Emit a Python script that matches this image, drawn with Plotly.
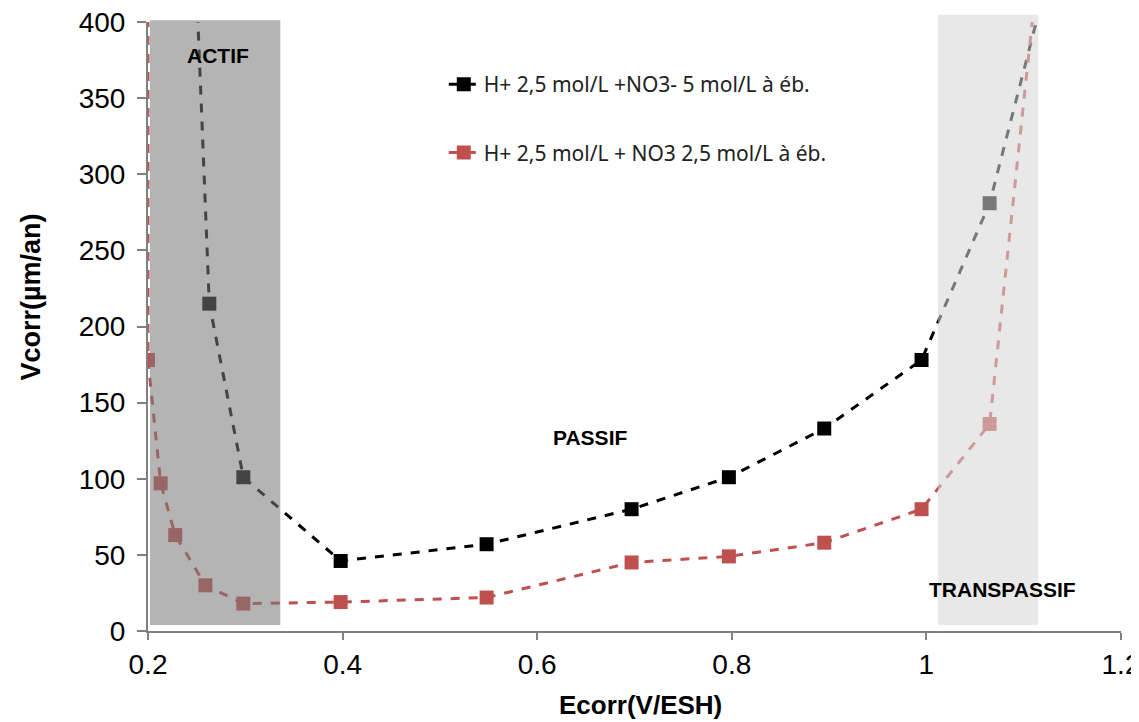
import plotly.graph_objects as go

# Data
e_no3_5 = [0.245, 0.263, 0.298, 0.398, 0.548, 0.697, 0.797, 0.895, 0.995, 1.065, 1.133]
v_no3_5 = [500, 215, 101, 46, 57, 80, 101, 133, 178, 281, 450]

e_no3_25 = [0.2, 0.2, 0.213, 0.228, 0.259, 0.298, 0.398, 0.548, 0.697, 0.797, 0.895, 0.995, 1.065, 1.117]
v_no3_25 = [450, 178, 97, 63, 30, 18, 19, 22, 45, 49, 58, 80, 136, 450]

name_5 = "H+ 2,5 mol/L +NO3- 5 mol/L à éb."
name_25 = "H+ 2,5 mol/L + NO3 2,5 mol/L à éb."

x_ticks = [0.2, 0.4, 0.6, 0.8, 1, 1.2]
x_ticklabels = ["0.2", "0.4", "0.6", "0.8", "1", "1.2"]
y_ticks = [0, 50, 100, 150, 200, 250, 300, 350, 400]

regions = {"actif": (0.202, 0.336), "transpassif": (1.012, 1.115)}

fig = go.Figure()
fig.add_trace(go.Scatter(
    x=e_no3_5, y=v_no3_5, name=name_5, mode="lines+markers",
    line=dict(color="black", width=3, dash="dash"),
    marker=dict(symbol="square", size=14, color="black"),
    legendgroup="a",
))
fig.add_trace(go.Scatter(
    x=e_no3_25, y=v_no3_25, name=name_25, mode="lines+markers",
    line=dict(color="#c0504d", width=3, dash="dash"),
    marker=dict(symbol="square", size=14, color="#c0504d"),
    legendgroup="b",
))

fig.add_shape(type="rect", xref="x", yref="paper",
              x0=regions["actif"][0], x1=regions["actif"][1], y0=0.01, y1=1.003,
              fillcolor="rgb(121,121,121)", opacity=0.56, line_width=0, layer="above")
fig.add_shape(type="rect", xref="x", yref="paper",
              x0=regions["transpassif"][0], x1=regions["transpassif"][1], y0=0.01, y1=1.012,
              fillcolor="rgb(214,214,214)", opacity=0.56, line_width=0, layer="above")

lab_font = dict(family="Liberation Sans", size=21, color="black")
fig.add_annotation(x=0.272, y=378, text="<b>ACTIF</b>", showarrow=False, font=lab_font)
fig.add_annotation(x=0.654, y=127, text="<b>PASSIF</b>", showarrow=False, font=lab_font)
fig.add_annotation(x=1.078, y=27, text="<b>TRANSPASSIF</b>", showarrow=False, font=lab_font)

title_font = dict(family="Liberation Sans", size=27, color="black")
fig.add_annotation(xref="paper", yref="paper", x=-0.120, y=0.548, text="<b>Vcorr(µm/an)</b>",
                   xanchor="center", yanchor="middle",
                   textangle=-90, showarrow=False, font=title_font)
fig.add_annotation(xref="paper", yref="paper", x=0.506, y=-0.1215, text="<b>Ecorr(V/ESH)</b>",
                   xanchor="center", yanchor="middle",
                   showarrow=False, font=dict(family="Liberation Sans", size=26, color="black"))

fig.update_layout(
    width=1131, height=714,
    margin=dict(l=140, r=18, t=14, b=91),
    paper_bgcolor="white", plot_bgcolor="white",
    showlegend=True,
    legend=dict(x=0.304, y=0.931, xanchor="left", yanchor="top",
                font=dict(family="Noto Sans", size=21, color="#222"),
                bgcolor="rgba(0,0,0,0)", tracegroupgap=38),
    xaxis=dict(range=[0.2, 1.2], tickvals=x_ticks, ticktext=x_ticklabels, automargin=False,
               ticklabeloverflow="allow",
               showgrid=False, zeroline=False, showline=True, linecolor="#808080", linewidth=2,
               ticks="outside", tickcolor="#808080", ticklen=7, tickwidth=2,
               tickfont=dict(family="Liberation Sans", size=28, color="black")),
    yaxis=dict(range=[0, 400], tickvals=y_ticks, automargin=False,
               ticklabeloverflow="allow", ticklabelstandoff=6,
               showgrid=False, zeroline=False, showline=True, linecolor="#808080", linewidth=2,
               ticks="outside", tickcolor="#808080", ticklen=9, tickwidth=2,
               tickfont=dict(family="Liberation Sans", size=28, color="black")),
)

fig.write_html("out.html")
